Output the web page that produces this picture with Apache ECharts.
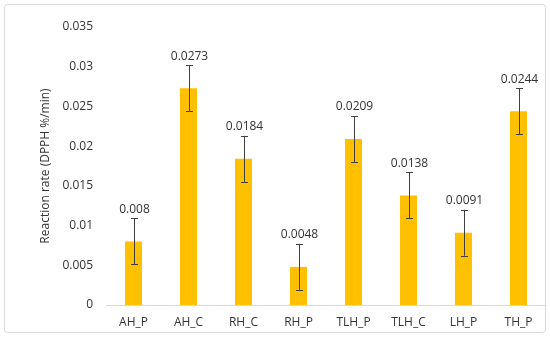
<!DOCTYPE html>
<html>
<head>
<meta charset="utf-8">
<script src="https://cdn.jsdelivr.net/npm/echarts@6/dist/echarts.min.js"></script>
<style>
html,body{margin:0;padding:0;background:#fff;}
#chart{width:550px;height:337px;}
</style>
</head>
<body>
<div id="chart"></div>
<script>
const categories = ['AH_P','AH_C','RH_C','RH_P','TLH_P','TLH_C','LH_P','TH_P'];
const values = [0.008, 0.0273, 0.0184, 0.0048, 0.0209, 0.0138, 0.0091, 0.0244];
const errors = [0.0029, 0.0029, 0.0029, 0.0029, 0.0029, 0.0029, 0.0029, 0.0029];
const labels = ['0.008','0.0273','0.0184','0.0048','0.0209','0.0138','0.0091','0.0244'];
const yTicks = [0, 0.005, 0.01, 0.015, 0.02, 0.025, 0.03, 0.035];

const FONT = '"Open Sans", sans-serif';
const chart = echarts.init(document.getElementById('chart'), null, {renderer:'canvas'});
const errData = values.map((v,i)=>[i, v - errors[i], v + errors[i], labels[i]]);

chart.setOption({
  animation:false,
  backgroundColor:'#fff',
  textStyle:{fontFamily:FONT},
  graphic:[{
    type:'rect', shape:{x:4.5,y:4.5,width:541,height:328,r:3},
    style:{fill:'none',stroke:'#d9d9d9',lineWidth:1}, silent:true, z:-1
  }],
  grid:{left:106,right:4,top:27,bottom:32,containLabel:false},
  xAxis:{
    type:'category', data:categories,
    axisLine:{show:true,lineStyle:{color:'#d9d9d9',width:1}},
    axisTick:{show:false},
    axisLabel:{color:'#333333',fontSize:12,fontFamily:FONT,margin:12}
  },
  yAxis:{
    type:'value', min:0, max:0.035, interval:0.005,
    name:'Reaction rate (DPPH %/min)', nameLocation:'middle', nameGap:48,
    nameTextStyle:{color:'#333333',fontSize:12,fontFamily:FONT},
    axisLine:{show:false}, axisTick:{show:false}, splitLine:{show:false},
    axisLabel:{color:'#333333',fontSize:12,fontFamily:FONT,margin:13,
      formatter:function(v){ const s = yTicks.find(t=>Math.abs(t-v)<1e-9); return s===0?'0':String(+v.toFixed(3)); }}
  },
  series:[
    {type:'bar', data:values, barWidth:17, itemStyle:{color:'#FFC000'}, z:2},
    {type:'custom', z:3, data:errData,
      renderItem:function(params, api){
        const x = api.value(0);
        const lo = api.coord([x, api.value(1)]);
        const hi = api.coord([x, api.value(2)]);
        const cx = Math.round(lo[0]) + 0.5;
        const hw = 3.5;
        const st = {stroke:'#404040', lineWidth:1};
        return {type:'group', children:[
          {type:'line', shape:{x1:cx,y1:hi[1],x2:cx,y2:lo[1]}, style:st},
          {type:'line', shape:{x1:cx-hw,y1:Math.round(hi[1])+0.5,x2:cx+hw,y2:Math.round(hi[1])+0.5}, style:st},
          {type:'line', shape:{x1:cx-hw,y1:Math.round(lo[1])+0.5,x2:cx+hw,y2:Math.round(lo[1])+0.5}, style:st},
          {type:'text', x:cx, y:hi[1]-3, style:{text:labels[params.dataIndex], fill:'#333333', font:'12px '+FONT, align:'center', verticalAlign:'bottom'}}
        ]};
      }
    }
  ]
});
</script>
</body>
</html>
